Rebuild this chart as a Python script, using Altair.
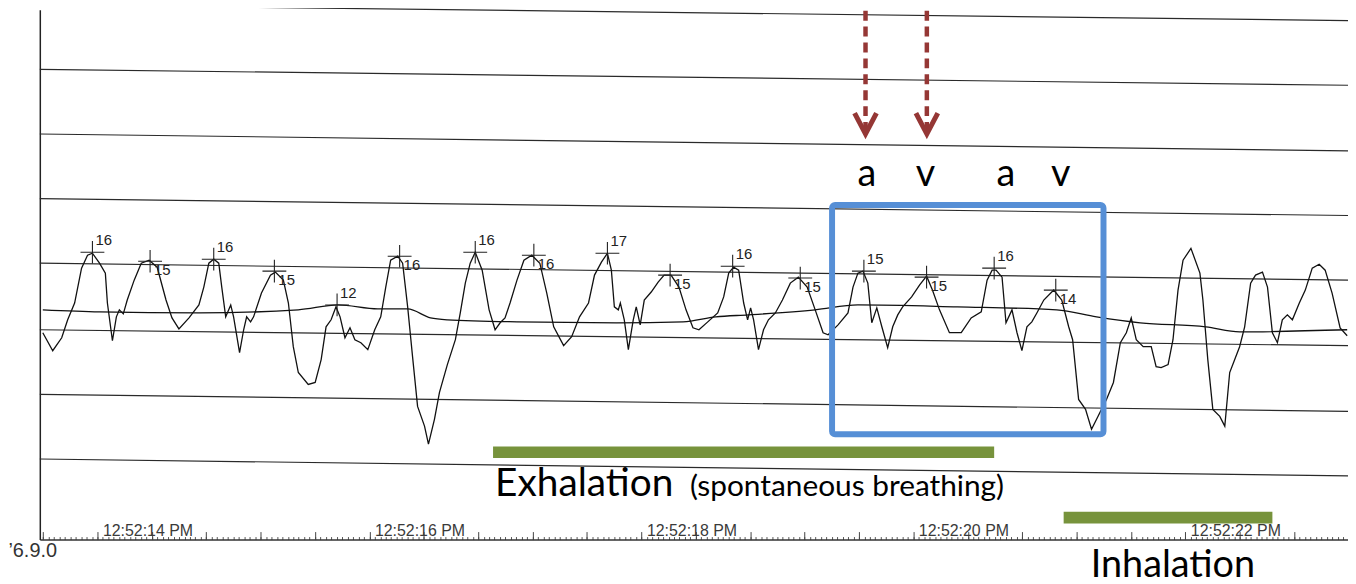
import altair as alt
import pandas as pd

# ---------------- data ----------------
# time in seconds after 12:52:00 PM, pressure in mmHg
wave_t = [13.598, 13.671, 13.737, 13.781, 13.832, 13.883, 13.927, 13.963, 14.015, 14.058,
          14.073, 14.110, 14.139, 14.161, 14.190, 14.219, 14.270, 14.322, 14.380, 14.439,
          14.504, 14.548, 14.599, 14.673, 14.746, 14.782, 14.819, 14.855, 14.892, 14.914,
          14.943, 14.980, 15.001, 15.045, 15.075, 15.097, 15.126, 15.148, 15.206, 15.272,
          15.308, 15.367, 15.404, 15.440, 15.477, 15.550, 15.601, 15.645, 15.681, 15.718,
          15.754, 15.784, 15.820, 15.857, 15.893, 15.937, 15.988, 16.039, 16.083, 16.120,
          16.156, 16.208, 16.244, 16.281, 16.317, 16.354, 16.405, 16.434, 16.478, 16.515,
          16.573, 16.632, 16.668, 16.705, 16.741, 16.778, 16.829, 16.880, 16.924, 16.961,
          16.997, 17.034, 17.085, 17.136, 17.194, 17.253, 17.304, 17.355, 17.428, 17.487,
          17.545, 17.611, 17.655, 17.706, 17.750, 17.779, 17.801, 17.830, 17.845, 17.874,
          17.904, 17.940, 17.962, 17.991, 18.021, 18.072, 18.123, 18.167, 18.218, 18.276,
          18.328, 18.379, 18.423, 18.488, 18.561, 18.605, 18.642, 18.678, 18.715, 18.752,
          18.781, 18.803, 18.825, 18.861, 18.898, 18.934, 18.985, 19.037, 19.095, 19.154,
          19.219, 19.278, 19.336, 19.373, 19.446, 19.519, 19.556, 19.592, 19.629, 19.665,
          19.694, 19.731, 19.768, 19.811, 19.848, 19.885, 19.921, 19.987, 20.045, 20.097,
          20.140, 20.192, 20.265, 20.352, 20.425, 20.499, 20.542, 20.579, 20.608, 20.652,
          20.681, 20.725, 20.762, 20.798, 20.835, 20.871, 20.908, 20.959, 21.032, 21.091,
          21.142, 21.171, 21.215, 21.266, 21.310, 21.347, 21.420, 21.471, 21.522, 21.566,
          21.602, 21.639, 21.690, 21.749, 21.785, 21.822, 21.873, 21.909, 21.946, 21.983,
          22.041, 22.107, 22.129, 22.165, 22.202, 22.253, 22.290, 22.326, 22.363, 22.399,
          22.436, 22.480, 22.516, 22.567, 22.604, 22.640, 22.677, 22.713, 22.750, 22.787,
          22.838, 22.882, 22.933, 22.984, 23.028, 23.079, 23.138, 23.190]
wave_p = [9.85, 8.46, 9.46, 10.85, 12.15, 14.85, 15.85, 16.0, 15.23, 14.46,
          12.15, 9.23, 11.08, 11.62, 11.31, 12.38, 13.92, 15.23, 15.46, 14.92,
          12.38, 11.0, 10.15, 11.0, 12.0, 13.38, 15.23, 15.54, 15.23, 13.38,
          11.08, 12.0, 11.08, 8.31, 10.08, 11.08, 10.69, 11.08, 12.92, 14.31,
          14.54, 13.92, 12.15, 8.77, 6.77, 5.85, 6.0, 7.77, 10.31, 10.85,
          11.85, 11.08, 9.46, 10.23, 9.31, 9.08, 8.54, 10.08, 11.08, 13.38,
          15.46, 15.77, 15.23, 11.85, 8.0, 4.15, 2.62, 1.23, 3.15, 5.23,
          7.38, 9.31, 11.38, 13.69, 15.23, 16.08, 14.69, 11.62, 10.08, 10.62,
          11.0, 12.15, 13.92, 15.46, 15.85, 15.23, 12.92, 10.31, 8.85, 9.54,
          11.08, 12.15, 14.31, 15.31, 16.0, 14.69, 11.85, 11.62, 12.15, 10.85,
          8.54, 10.85, 11.85, 10.46, 12.38, 13.0, 13.77, 14.31, 14.31, 13.38,
          11.62, 10.23, 10.08, 10.69, 11.38, 12.62, 14.46, 14.92, 14.69, 12.15,
          10.85, 11.77, 10.85, 8.54, 10.08, 10.85, 11.38, 12.38, 13.69, 14.15,
          13.38, 11.62, 9.85, 9.69, 10.46, 11.38, 13.38, 14.46, 14.62, 13.69,
          10.62, 11.77, 10.31, 8.69, 10.31, 11.23, 11.85, 12.62, 13.54, 14.23,
          13.15, 11.62, 9.85, 9.85, 11.0, 11.46, 13.92, 14.69, 14.69, 14.15,
          10.62, 11.62, 9.85, 8.46, 10.31, 10.69, 11.38, 12.38, 13.15, 12.38,
          10.31, 9.31, 4.69, 3.92, 2.38, 3.15, 4.69, 6.0, 9.08, 9.85,
          11.0, 9.31, 8.77, 8.77, 7.23, 7.15, 7.38, 9.31, 13.15, 15.46,
          16.38, 14.46, 12.38, 7.77, 3.92, 3.38, 2.62, 6.77, 7.77, 8.77,
          10.31, 13.69, 14.31, 14.54, 13.38, 9.85, 9.08, 10.85, 11.23, 10.85,
          12.15, 13.15, 14.85, 15.15, 14.69, 12.92, 10.23, 9.62]

mean_t = [13.598, 14.015, 14.746, 15.477, 15.769, 16.061, 16.281, 16.449, 16.573, 17.085,
          17.816, 18.306, 18.547, 18.788, 19.278, 19.592, 20.323, 21.054, 21.347, 21.668,
          22.151, 22.399, 23.190]
mean_p = [11.62, 11.46, 11.38, 11.62, 12.0, 11.69, 11.69, 11.0, 10.85, 10.69,
          10.62, 10.69, 11.08, 11.23, 11.62, 12.0, 11.85, 11.62, 11.08, 10.62,
          10.31, 9.92, 10.08]

peak_t = [13.963, 14.387, 14.855, 15.301, 15.762, 16.222, 16.778, 17.209,
          17.750, 18.211, 18.671, 19.168, 19.636, 20.097, 20.594, 21.047]
peak_p = [16.08, 15.38, 15.54, 14.62, 12.0, 15.77, 16.08, 15.85,
          16.0, 14.31, 15.0, 14.08, 14.62, 14.15, 14.85, 13.15]
peak_label = ["16", "15", "16", "15", "12", "16", "16", "16",
              "17", "15", "16", "15", "15", "15", "16", "14"]
peak_side = ["up", "down", "up", "down", "up", "down", "up", "down",
             "up", "down", "up", "down", "up", "down", "up", "down"]

# scanned paper grid lines (slightly skewed): value at left edge and right edge
grid_left = [35.23, 30.23, 25.23, 20.23, 15.23, 10.08, 5.08, 0.08]
grid_right = [34.0, 29.0, 23.92, 18.92, 13.92, 8.85, 3.77, -1.23]
grid_t0, grid_t1 = 13.576, 23.196

# annotations
box_t = [19.402, 21.398]
box_p = [19.73, 2.0]
arrow_t = [19.648, 20.099]
arrow_top, arrow_end, arrow_head = 36.0, 25.46, 26.0
av_t = [19.658, 20.089, 20.681, 21.083]
av_text = ["a", "v", "a", "v"]
av_p = 21.23
exh_bar_t = [16.909, 20.594]
exh_bar_p = [1.04, 0.15]
inh_bar_t = [21.105, 22.640]
inh_bar_p = [-4.0, -4.92]

minor_ticks = [round(13.6 + 0.04 * i, 2) for i in range(240)]
major_ticks = [round(13.6 + 0.4 * i, 1) for i in range(24)]

# ---------------- chart ----------------
W, H = 1316, 533
xs = alt.Scale(domain=[13.576, 23.196], nice=False, zero=False)
ys = alt.Scale(domain=[-6.154, 34.846], nice=False, zero=False)

minor_axis = alt.Axis(
    orient="top", offset=-H, values=minor_ticks, title=None, grid=False,
    domain=True, domainColor="#333333", domainWidth=1.5,
    ticks=True, tickColor="#555555", tickWidth=1, tickSize=3, labels=False,
)
major_axis = alt.Axis(
    orient="top", offset=-H, values=major_ticks, title=None, grid=False,
    domain=False, ticks=True, tickColor="#444444", tickWidth=1, tickSize=8,
    labelExpr="abs(datum.value/2 - round(datum.value/2)) < 0.01 ? '12:52:' + format(datum.value, '02d') + ' PM' : ''",
    labelAlign="left", labelBaseline="bottom", labelPadding=-7, labelOffset=5,
    labelFont="Liberation Sans", labelFontSize=16, labelColor="#3a3a3a",
    labelOverlap=False, labelFlush=False,
)
y_axis = alt.Axis(orient="left", domain=True, domainColor="#222222", domainWidth=1.5,
                  ticks=False, labels=False, grid=False, title=None)

wave_df = pd.DataFrame({"t": wave_t, "p": wave_p, "i": range(len(wave_t))})
mean_df = pd.DataFrame({"t": mean_t, "p": mean_p, "i": range(len(mean_t))})
peak_df = pd.DataFrame({"t": peak_t, "p": peak_p, "label": peak_label, "side": peak_side})
grid_df = pd.DataFrame({"t0": [grid_t0] * len(grid_left), "t1": [grid_t1] * len(grid_left),
                        "p0": grid_left, "p1": grid_right})

def X(f, axis=None):
    return alt.X(f, type="quantitative", scale=xs, axis=axis)

def Y(f, axis=None):
    return alt.Y(f, type="quantitative", scale=ys, axis=axis)

grid = alt.Chart(grid_df).mark_rule(color="#2a2a2a", strokeWidth=1.2).encode(
    x=X("t0"), x2="t1", y=Y("p0", y_axis), y2="p1")

wave = alt.Chart(wave_df).mark_line(color="#111111", strokeWidth=1.3).encode(
    x=X("t", minor_axis), y=Y("p"), order="i:Q")

mean = alt.Chart(mean_df).mark_line(color="#111111", strokeWidth=1.3, interpolate="monotone").encode(
    x=X("t", major_axis), y=Y("p"), order="i:Q")

crosses = alt.Chart(peak_df).mark_point(
    shape="M-1,0L1,0M0,-0.95L0,0.95", size=576, filled=False, strokeWidth=1.1,
    color="#222222", opacity=1).encode(x=X("t"), y=Y("p"))

lab_up = alt.Chart(peak_df).transform_filter("datum.side == 'up'").mark_text(
    align="left", baseline="middle", dx=3, dy=-12, font="Liberation Sans", fontSize=15,
    color="#222222").encode(x=X("t"), y=Y("p"), text="label:N")
lab_dn = alt.Chart(peak_df).transform_filter("datum.side == 'down'").mark_text(
    align="left", baseline="middle", dx=4, dy=9, font="Liberation Sans", fontSize=15,
    color="#222222").encode(x=X("t"), y=Y("p"), text="label:N")

box = alt.Chart(pd.DataFrame({"t0": [box_t[0]], "t1": [box_t[1]], "p0": [box_p[0]], "p1": [box_p[1]]})).mark_rect(
    fill="transparent", stroke="#568fd6", strokeWidth=6, cornerRadius=3).encode(
    x=X("t0"), x2="t1", y=Y("p0"), y2="p1")

arrow_df = pd.DataFrame({"t": arrow_t, "top": [arrow_top] * 2, "end": [arrow_end] * 2,
                         "head": [arrow_head] * 2})
arrows = alt.Chart(arrow_df).mark_rule(color="#953735", strokeWidth=4.5, strokeDash=[10, 6]).encode(
    x=X("t"), y=Y("top"), y2="end")
heads = alt.Chart(arrow_df).mark_point(
    shape="M-1,-1L0,0.9L1,-1", size=484, filled=False, strokeWidth=5, color="#953735",
    opacity=1).encode(x=X("t"), y=Y("head"))

av = alt.Chart(pd.DataFrame({"t": av_t, "p": [av_p] * 4, "s": av_text})).mark_text(
    align="center", baseline="alphabetic", font="Lato", fontSize=38, color="#000000").encode(
    x=X("t"), y=Y("p"), text="s:N")

bars = alt.Chart(pd.DataFrame({"t0": [exh_bar_t[0], inh_bar_t[0]], "t1": [exh_bar_t[1], inh_bar_t[1]],
                               "p0": [exh_bar_p[0], inh_bar_p[0]], "p1": [exh_bar_p[1], inh_bar_p[1]]})).mark_rect(
    color="#77933c").encode(x=X("t0"), x2="t1", y=Y("p0"), y2="p1")

def label(text, t, p, size, align="left", font="Lato", color="#000000"):
    return alt.Chart(pd.DataFrame({"t": [t], "p": [p], "s": [text]})).mark_text(
        align=align, baseline="alphabetic", font=font, fontSize=size, color=color).encode(
        x=X("t"), y=Y("p"), text="s:N")

exh = label("Exhalation", 16.924, -2.77, 39)
spont = label("(spontaneous breathing)", 20.667, -2.77, 30, align="right")
inh = label("Inhalation", 21.304, -9.08, 38)
ver = label("\u20196.9.0", 13.345, -7.54, 20, font="Liberation Sans", color="#333333")

chart = alt.layer(grid, wave, mean, crosses, lab_up, lab_dn, bars, box, arrows, heads, av,
                  exh, spont, inh, ver).resolve_axis(x="independent", y="independent").properties(
    width=W, height=H,
    padding={"left": 32, "top": 0, "right": 0, "bottom": 43},
    autosize=alt.AutoSizeParams(type="none"),
    background="white",
).configure_view(strokeWidth=0)

chart.save("out.html", embed_options={"renderer": "svg", "actions": False})
